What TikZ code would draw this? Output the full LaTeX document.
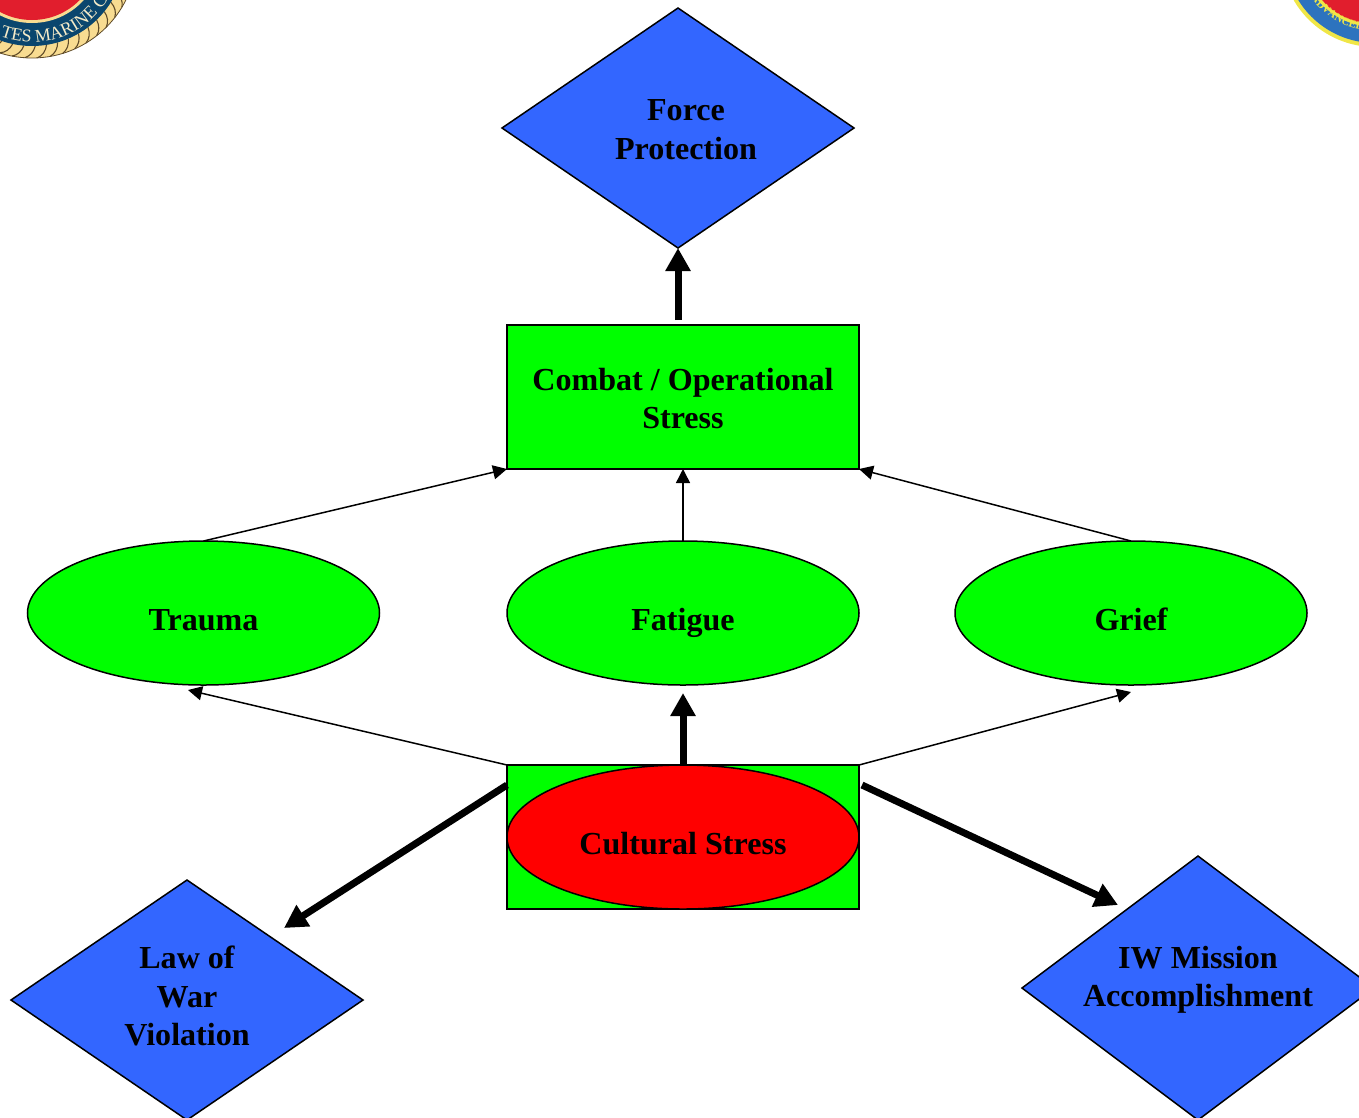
\documentclass[tikz,border=0pt]{standalone}
\usepackage{fontspec}
\setmainfont{Liberation Serif}
\usetikzlibrary{shapes.geometric,arrows.meta,decorations.text}
\definecolor{dblue}{RGB}{51,102,255}
\definecolor{lgreen}{RGB}{0,255,0}
\definecolor{lred}{RGB}{255,0,0}
\definecolor{navy}{RGB}{10,70,110}
\definecolor{rope}{RGB}{248,220,145}
\definecolor{ropeline}{RGB}{95,75,40}
\definecolor{cream}{RGB}{245,235,200}
\definecolor{sealred}{RGB}{225,30,45}
\definecolor{sealblue}{RGB}{45,115,190}
\definecolor{sealyellow}{RGB}{240,230,70}
\tikzset{
  base/.style={draw=black,line width=1.5bp,inner sep=0pt,outer sep=0pt},
  decision/.style={base,diamond,fill=dblue,minimum width=352bp,shape aspect=1.467},
  stressbox/.style={base,rectangle,fill=lgreen,minimum width=352bp,minimum height=144bp},
  stressoval/.style={base,ellipse,fill=lgreen,minimum width=352bp,minimum height=144bp},
  labeltext/.style={font=\fontsize{32.2}{38.5}\selectfont\bfseries,align=center,inner sep=0pt},
  thin arrow/.style={draw=black,line width=1.5bp,-{Triangle[length=14bp,width=14bp]}},
  thick arrow/.style={draw=black,line width=7bp,-{Triangle[length=23bp,width=24bp]}}
}
\begin{document}
\begin{tikzpicture}[x=1bp,y=-1bp]
\useasboundingbox (0,0) rectangle (1359,1117);
\clip (0,0) rectangle (1359,1117);
% left seal
\fill[rope] (32,-47) circle[radius=105];
\foreach \a in {4,11,...,175}{
  \draw[ropeline,line width=1.1bp] ({32+93*cos(\a)},{-47+93*sin(\a)})
    .. controls ({32+99*cos(\a+1)},{-47+99*sin(\a+1)}) and ({32+103*cos(\a+3)},{-47+103*sin(\a+3)})
    .. ({32+105*cos(\a+6)},{-47+105*sin(\a+6)});
}
\draw[ropeline,line width=0.8bp] (32,-47) circle[radius=105];
\fill[navy] (32,-47) circle[radius=93];
\fill[rope] (32,-47) circle[radius=70];
\fill[sealred] (32,-47) circle[radius=67];
\path[decorate,decoration={text along path,text format delimiters={|}{|},
  text={|\fontsize{18}{18}\selectfont\color{cream}|TES MARINE C}}]
  plot[domain=111:20,samples=40] ({32+89*cos(\x)},{-47+89*sin(\x)});
% right seal
\fill[sealyellow] (1375,-47) circle[radius=94];
\fill[sealblue] (1375,-47) circle[radius=90];
\fill[sealyellow] (1375,-47) circle[radius=74];
\fill[sealred] (1375,-47) circle[radius=71];
\path[decorate,decoration={text along path,text format delimiters={|}{|},
  text={|\fontsize{11}{11}\selectfont\bfseries\color{sealyellow}|ADVANCED C}}]
  plot[domain=145:85,samples=30] ({1375+78*cos(\x)},{-47+78*sin(\x)});
% nodes
\node[decision,minimum height=240bp] (force) at (678,128) {};
\node[labeltext] (forcet) at (686,129.5) {Force\\Protection};
\node[stressbox] (combat) at (683,397) {};
\node[labeltext] (combatt) at (683,398.5) {Combat / Operational\\Stress};
\node[stressoval] (trauma) at (203.5,613) {};
\node[labeltext] (traumat) at (203.5,620) {Trauma};
\node[stressoval] (fatigue) at (683,613) {};
\node[labeltext] (fatiguet) at (683,622.5) {Fatigue};
\node[stressoval] (grief) at (1131,613) {};
\node[labeltext] (grieft) at (1131,619.5) {Grief};
\node[stressbox] (cbox) at (683,837) {};
\node[base,ellipse,fill=lred,minimum width=352bp,minimum height=144bp] (coval) at (683,837) {};
\node[labeltext] (covalt) at (683,844) {Cultural Stress};
\node[decision,minimum height=240bp] (law) at (187,1000) {};
\node[labeltext] (lawt) at (187,996) {Law of\\War\\Violation};
\node[decision,minimum height=264bp,shape aspect=1.333] (iw) at (1198,988) {};
\node[labeltext] (iwt) at (1198,980) {IW Mission\\Accomplishment};
% free ends
\coordinate (fstart) at (678,320);
\coordinate (fatend) at (683,693);
\coordinate (traend) at (188,690);
\coordinate (griend) at (1131,692);
\coordinate (lawstart) at (507,785);
\coordinate (lawend) at (284,928);
\coordinate (iwstart) at (862,785);
\coordinate (iwend) at (1118,905);
% connectors
\draw[thick arrow] (fstart) -- (force.south);
\draw[thin arrow] (trauma.north) -- (combat.south west);
\draw[thin arrow] (fatigue.north) -- (combat.south);
\draw[thin arrow] (grief.north) -- (combat.south east);
\draw[thin arrow] (cbox.north west) -- (traend);
\draw[thin arrow] (cbox.north east) -- (griend);
\draw[thick arrow] (cbox.north) -- (fatend);
\draw[thick arrow] (lawstart) -- (lawend);
\draw[thick arrow] (iwstart) -- (iwend);
\end{tikzpicture}
\end{document}
